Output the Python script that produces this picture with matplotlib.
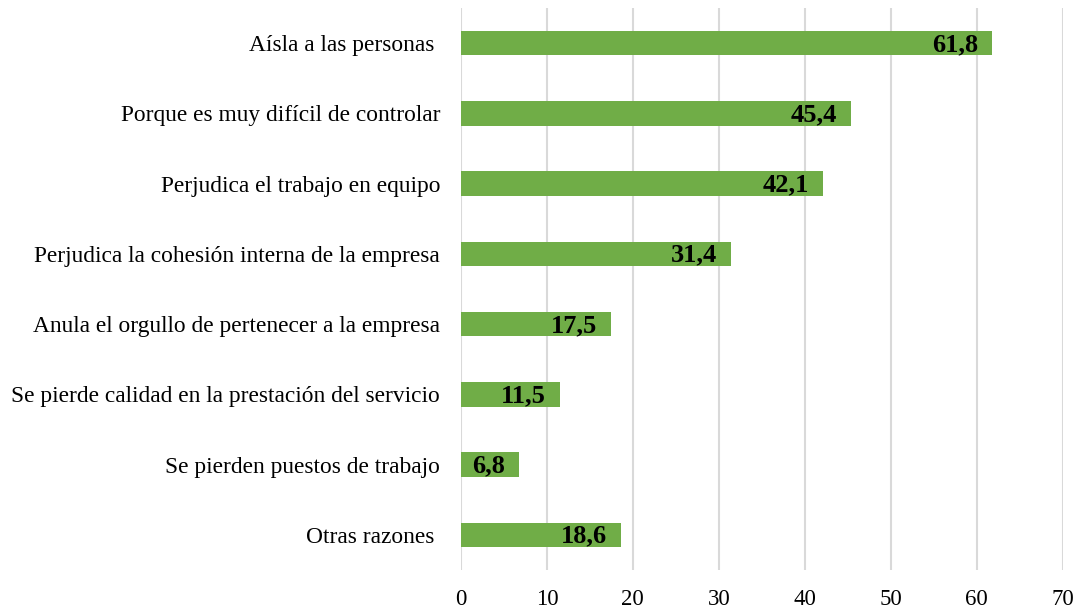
import matplotlib
matplotlib.use("Agg")
import matplotlib.pyplot as plt

categories = [
    "Aísla a las personas ",
    "Porque es muy difícil de controlar",
    "Perjudica el trabajo en equipo",
    "Perjudica la cohesión interna de la empresa",
    "Anula el orgullo de pertenecer a la empresa",
    "Se pierde calidad en la prestación del servicio",
    "Se pierden puestos de trabajo",
    "Otras razones ",
]
values = [61.8, 45.4, 42.1, 31.4, 17.5, 11.5, 6.8, 18.6]
xticks = [0, 10, 20, 30, 40, 50, 60, 70]

plt.rcParams["font.family"] = ["Liberation Serif", "DejaVu Serif"]

fig = plt.figure(figsize=(10.82, 6.09), dpi=100)
ax = fig.add_axes([0.426, 0.064, 0.556, 0.923])

pos = list(range(len(categories)))
bars = ax.barh(pos, values, height=0.35, color="#70AD47", zorder=2)

for b, v in zip(bars, values):
    ax.annotate(f"{v:.1f}".replace(".", ","),
                (b.get_width(), b.get_y() + b.get_height() / 2),
                xytext=(-10, -1), textcoords="offset points",
                ha="right", va="center",
                fontsize=19, fontweight="bold", color="black", zorder=3)

ax.set_xlim(0, 70)
ax.set_ylim(len(categories) - 0.5, -0.5)
ax.set_xticks(xticks)
ax.set_yticks(pos)
ax.set_yticklabels(categories, fontsize=16.8)
ax.tick_params(axis="x", labelsize=16.5, length=0, pad=14)
ax.tick_params(axis="y", length=0, pad=15)
ax.grid(axis="x", color="#d9d9d9", linewidth=1.5, zorder=0)
for s in ax.spines.values():
    s.set_visible(False)

fig.savefig("out.png", dpi=100)
